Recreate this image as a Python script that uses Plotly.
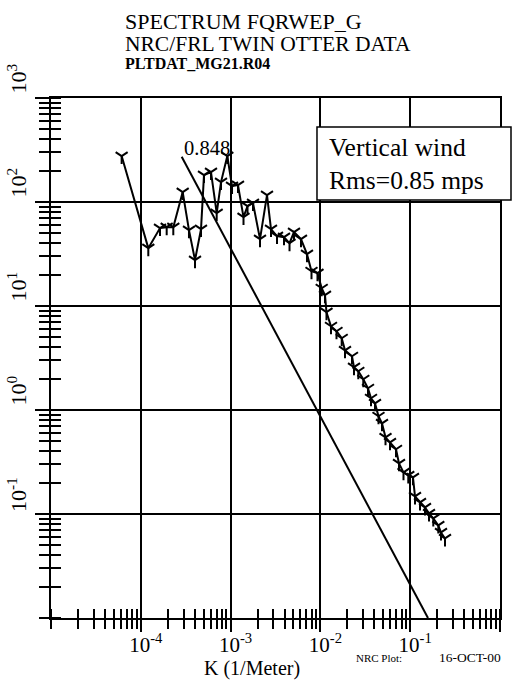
import math
import plotly.graph_objects as go

# ---- data ----
k_wavenumber = [6.12e-5, 1.212e-4, 1.636e-4, 1.942e-4, 2.301e-4, 2.928e-4, 3.44e-4, 4.015e-4,
                4.683e-4, 5.055e-4, 6.05e-4, 7.0e-4, 7.82e-4, 9.19e-4, 1.037e-3, 1.209e-3,
                1.392e-3, 1.543e-3, 1.776e-3, 2.125e-3, 2.543e-3, 2.818e-3, 3.287e-3, 3.932e-3,
                4.53e-3, 5.08e-3, 6.08e-3, 7.09e-3, 7.96e-3, 9.28e-3, 1.034e-2, 1.125e-2,
                1.169e-2, 1.312e-2, 1.511e-2, 1.727e-2, 1.879e-2, 2.248e-2, 2.366e-2, 2.642e-2,
                3.004e-2, 3.389e-2, 3.66e-2, 4.055e-2, 4.436e-2, 4.853e-2, 5.31e-2, 5.957e-2,
                6.949e-2, 7.503e-2, 8.42e-2, 9.52e-2, 0.1074, 0.1131, 0.1286, 0.1462, 0.162,
                0.1808, 0.2056, 0.2203, 0.2441]
spectrum = [276.6, 36.0, 56.1, 57.3, 57.3, 124.6, 53.6, 27.6, 54.9, 181.5, 194.0, 78.2, 155.4,
            276.6, 142.2, 145.4, 71.6, 91.3, 97.6, 43.9, 116.5, 54.9, 47.0, 45.9, 40.2, 51.3,
            43.9, 31.5, 21.6, 20.7, 14.8, 12.7, 8.72, 6.39, 5.72, 4.90, 3.75, 3.29, 2.58, 2.36,
            1.975, 1.618, 1.296, 1.160, 0.870, 0.745, 0.546, 0.489, 0.419, 0.307, 0.2515, 0.235,
            0.225, 0.1477, 0.1293, 0.1157, 0.1013, 0.0907, 0.0777, 0.0665, 0.0582]

ref_k = [2.853e-4, 0.1578]
ref_s = [272.0, 0.01]
ref_label = "0.848"

x_tickvals = [1e-4, 1e-3, 1e-2, 1e-1, 1e0]
x_ticktext = ["10<sup>-4</sup>", "10<sup>-3</sup>", "10<sup>-2</sup>", "10<sup>-1</sup>", "10<sup>0</sup>"]
y_tickvals = [1e-1, 1e0, 1e1, 1e2, 1e3]
y_ticktext = ["10<sup>-1</sup>", "10<sup>0</sup>", "10<sup>1</sup>", "10<sup>2</sup>", "10<sup>3</sup>"]

title_lines = ["SPECTRUM FQRWEP_G", "NRC/FRL TWIN OTTER DATA", "PLTDAT_MG21.R04"]
legend_text = "Vertical wind<br>Rms=0.85 mps"

SERIF = "Liberation Serif, Times New Roman, serif"
BLACK = "black"

fig = go.Figure()
fig.add_trace(go.Scatter(x=ref_k, y=ref_s, mode="lines",
                         line=dict(color=BLACK, width=2), showlegend=False, hoverinfo="skip"))
fig.add_trace(go.Scatter(x=k_wavenumber, y=spectrum, mode="lines+markers",
                         line=dict(color=BLACK, width=2),
                         marker=dict(symbol="y-down", size=10, color=BLACK,
                                     line=dict(color=BLACK, width=2)),
                         showlegend=False))
# invisible trace for overlay axes (inside ticks)
fig.add_trace(go.Scatter(x=[1e-3], y=[1], xaxis="x2", yaxis="y2", mode="markers",
                         marker=dict(opacity=0), showlegend=False, hoverinfo="skip"))

axis_common = dict(type="log", showline=True, linecolor=BLACK, linewidth=2,
                   zeroline=False, tickcolor=BLACK, tickwidth=2, automargin=False)

fig.update_layout(
    width=519, height=680,
    margin=dict(l=51, r=19, t=98, b=62),
    paper_bgcolor="white", plot_bgcolor="white",
    xaxis=dict(**axis_common, range=[-5, 0], mirror=True,
               showgrid=True, gridcolor=BLACK, gridwidth=2,
               ticks="outside", ticklen=12,
               tickmode="array", tickvals=x_tickvals, ticktext=x_ticktext,
               ticklabelshift=5, ticklabelstandoff=-5,
               tickfont=dict(family=SERIF, size=21, color=BLACK),
               minor=dict(ticks="outside", ticklen=9, tickwidth=2, tickcolor=BLACK,
                          dtick="D1", showgrid=False)),
    yaxis=dict(**axis_common, range=[-2, 3], mirror=True,
               showgrid=True, gridcolor=BLACK, gridwidth=2,
               ticks="outside", ticklen=14,
               tickmode="array", tickvals=y_tickvals, ticktext=y_ticktext,
               tickangle=-90, ticklabelshift=-16,
               tickfont=dict(family=SERIF, size=22, color=BLACK),
               minor=dict(ticks="outside", ticklen=10, tickwidth=2, tickcolor=BLACK,
                          dtick="D1", showgrid=False)),
    xaxis2=dict(type="log", range=[-5, 0], overlaying="x", anchor="y2", side="bottom",
                showline=False, showgrid=False, zeroline=False, showticklabels=False,
                automargin=False, ticks="", tickmode="array", tickvals=[],
                minor=dict(ticks="inside", ticklen=9, tickwidth=2, tickcolor=BLACK,
                           dtick="D1", showgrid=False)),
    yaxis2=dict(type="log", range=[-2, 3], overlaying="y", anchor="x2", side="left",
                showline=False, showgrid=False, zeroline=False, showticklabels=False,
                automargin=False, ticks="", tickmode="array", tickvals=[],
                minor=dict(ticks="inside", ticklen=10, tickwidth=2, tickcolor=BLACK,
                           dtick="D1", showgrid=False)),
)

# legend box
fig.add_shape(type="rect", xref="paper", yref="paper",
              x0=0.5924, x1=1.0245, y0=0.8038, y1=0.9442,
              line=dict(color=BLACK, width=1.5), fillcolor="white", layer="above")
fig.add_annotation(text=legend_text, xref="paper", yref="paper", x=0.6147, y=0.874,
                   xanchor="left", yanchor="middle", align="left", showarrow=False,
                   font=dict(family=SERIF, size=25.5, color=BLACK))

# reference line label
fig.add_annotation(text=ref_label, x=math.log10(ref_k[0]), y=math.log10(ref_s[0]),
                   xref="x", yref="y", xanchor="left", yanchor="bottom", yshift=-4,
                   showarrow=False, font=dict(family=SERIF, size=20.5, color=BLACK))

# titles
fig.add_annotation(text=title_lines[0], xref="paper", yref="paper", x=0.1604, y=1.148,
                   xanchor="left", yanchor="middle", showarrow=False,
                   font=dict(family=SERIF, size=22, color=BLACK))
fig.add_annotation(text=title_lines[1], xref="paper", yref="paper", x=0.1604, y=1.1048,
                   xanchor="left", yanchor="middle", showarrow=False,
                   font=dict(family=SERIF, size=21.5, color=BLACK))
fig.add_annotation(text="<b>" + title_lines[2] + "</b>", xref="paper", yref="paper",
                   x=0.1604, y=1.0663, xanchor="left", yanchor="middle", showarrow=False,
                   font=dict(family=SERIF, size=16, color=BLACK))

# x-axis title and footer
fig.add_annotation(text="K (1/Meter)", xref="paper", yref="paper", x=0.4477, y=-0.0965,
                   xanchor="center", yanchor="middle", showarrow=False,
                   font=dict(family=SERIF, size=20, color=BLACK))
fig.add_annotation(text="NRC Plot:", xref="paper", yref="paper", x=0.675, y=-0.0765,
                   xanchor="left", yanchor="middle", showarrow=False,
                   font=dict(family=SERIF, size=11, color=BLACK))
fig.add_annotation(text="16-OCT-00", xref="paper", yref="paper", x=1.0067, y=-0.0765,
                   xanchor="right", yanchor="middle", showarrow=False,
                   font=dict(family=SERIF, size=13.5, color=BLACK))

fig.write_html("out.html")
